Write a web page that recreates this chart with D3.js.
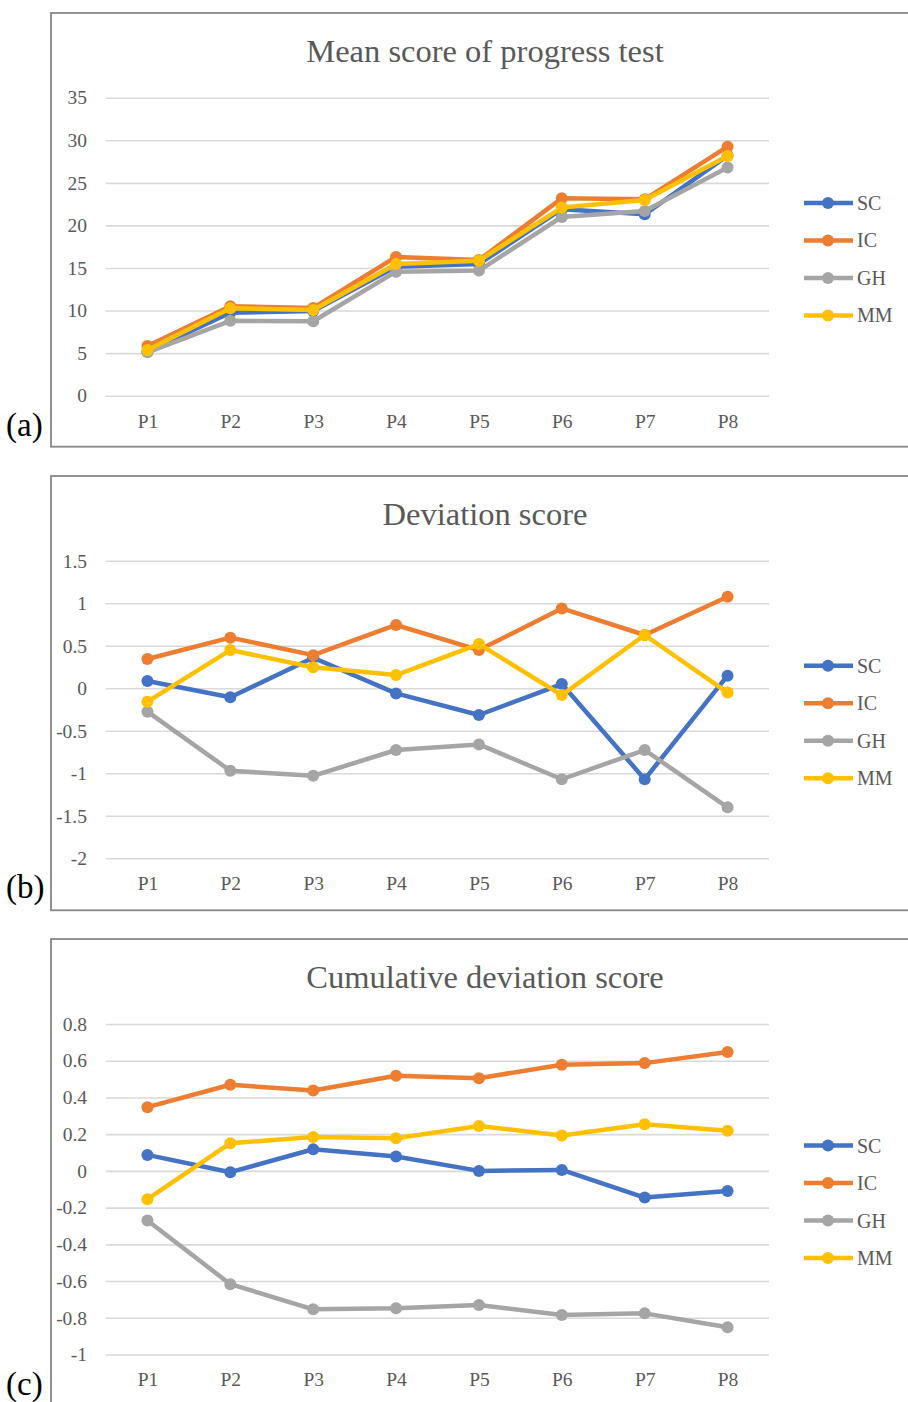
<!DOCTYPE html>
<html>
<head>
<meta charset="utf-8">
<script src="https://cdn.jsdelivr.net/npm/d3@7"></script>
<style>
  body { margin: 0; background: #fff; }
  text { font-family: "Liberation Serif", "Times New Roman", serif; }
</style>
</head>
<body>
<div id="chart"></div>
<script>
var categories = ["P1", "P2", "P3", "P4", "P5", "P6", "P7", "P8"];
var seriesNames = ["SC", "IC", "GH", "MM"];
var seriesColors = ["#4472C4", "#ED7D31", "#A5A5A5", "#FFC000"];

// (a) mean score of progress test
var meanSC = [5.2, 9.75, 9.95, 15.15, 15.47, 21.9, 21.3, 28.2];
var meanIC = [5.84, 10.5, 10.3, 16.3, 15.94, 23.18, 23.06, 29.25];
var meanGH = [5.1, 8.8, 8.75, 14.57, 14.69, 21.0, 21.7, 26.8];
var meanMM = [5.37, 10.26, 10.07, 15.47, 15.86, 22.1, 22.98, 28.15];
var meanTicks = [0, 5, 10, 15, 20, 25, 30, 35];
var meanTickLabels = ["0", "5", "10", "15", "20", "25", "30", "35"];

// (b) deviation score
var devSC = [0.086, -0.106, 0.36, -0.06, -0.314, 0.05, -1.07, 0.149];
var devIC = [0.345, 0.596, 0.39, 0.745, 0.45, 0.94, 0.627, 1.078];
var devGH = [-0.275, -0.97, -1.03, -0.726, -0.66, -1.07, -0.726, -1.40];
var devMM = [-0.157, 0.45, 0.247, 0.156, 0.52, -0.08, 0.627, -0.05];
var devTicks = [-2, -1.5, -1, -0.5, 0, 0.5, 1, 1.5];
var devTickLabels = ["-2", "-1.5", "-1", "-0.5", "0", "0.5", "1", "1.5"];

// (c) cumulative deviation score
var cumSC = [0.087, -0.007, 0.118, 0.078, 0.0, 0.005, -0.145, -0.109];
var cumIC = [0.347, 0.469, 0.438, 0.518, 0.505, 0.578, 0.587, 0.647];
var cumGH = [-0.27, -0.617, -0.754, -0.748, -0.73, -0.785, -0.776, -0.852];
var cumMM = [-0.154, 0.151, 0.184, 0.178, 0.245, 0.193, 0.254, 0.218];
var cumTicks = [-1, -0.8, -0.6, -0.4, -0.2, 0, 0.2, 0.4, 0.6, 0.8];
var cumTickLabels = ["-1", "-0.8", "-0.6", "-0.4", "-0.2", "0", "0.2", "0.4", "0.6", "0.8"];

var panels = [
  {tag: "(a)", title: "Mean score of progress test", top: 13, gridTop: 97.7, gridBottom: 395.7,
   series: [meanSC, meanIC, meanGH, meanMM], ticks: meanTicks, labels: meanTickLabels, bottomGap: 51},
  {tag: "(b)", title: "Deviation score", top: 476, gridTop: 560.8, gridBottom: 858.3,
   series: [devSC, devIC, devGH, devMM], ticks: devTicks, labels: devTickLabels, bottomGap: 52},
  {tag: "(c)", title: "Cumulative deviation score", top: 939, gridTop: 1024, gridBottom: 1354.5,
   series: [cumSC, cumIC, cumGH, cumMM], ticks: cumTicks, labels: cumTickLabels, bottomGap: 52}
];

var W = 908, H = 1402;
var svg = d3.select("#chart").append("svg")
    .attr("width", W)
    .attr("height", H)
    .style("display", "block");

var x = d3.scalePoint()
    .domain(categories)
    .range([106, 769])
    .padding(0.5);

panels.forEach(function(p) {
    var g = svg.append("g");
    var lo = d3.min(p.ticks), hi = d3.max(p.ticks);
    var y = d3.scaleLinear()
        .domain([lo, hi])
        .range([p.gridBottom, p.gridTop]);

    // frame (right edge runs off the page)
    g.append("rect")
        .attr("x", 51)
        .attr("y", p.top)
        .attr("width", 900)
        .attr("height", p.gridBottom + p.bottomGap - p.top)
        .attr("fill", "none")
        .attr("stroke", "#868686")
        .attr("stroke-width", 1.8);

    g.append("text")
        .attr("x", 485)
        .attr("y", p.top + 49)
        .attr("text-anchor", "middle")
        .attr("font-size", 32.5)
        .attr("fill", "#595959")
        .text(p.title);

    // gridlines + y labels
    var yAxis = d3.axisLeft(y)
        .tickValues(p.ticks)
        .tickSize(-(769 - 106))
        .tickPadding(19)
        .tickFormat(function(d, i) { return p.labels[i]; });
    var ya = g.append("g")
        .attr("transform", "translate(106,0)")
        .call(yAxis);
    ya.select(".domain").remove();
    ya.selectAll("line").attr("stroke", "#D9D9D9").attr("stroke-width", 1.6);
    ya.selectAll("text")
        .attr("font-size", 19.5)
        .attr("fill", "#595959")
        .style("font-family", "'Liberation Serif', serif");

    var xAxis = d3.axisBottom(x).tickSize(0).tickPadding(18);
    var xa = g.append("g")
        .attr("transform", "translate(0," + p.gridBottom + ")")
        .call(xAxis);
    xa.select(".domain").remove();
    xa.selectAll("text")
        .attr("font-size", 19.5)
        .attr("fill", "#595959")
        .style("font-family", "'Liberation Serif', serif");

    var line = d3.line()
        .x(function(d, i) { return x(categories[i]); })
        .y(function(d) { return y(d); });

    p.series.forEach(function(vals, s) {
        g.append("path")
            .datum(vals)
            .attr("d", line)
            .attr("fill", "none")
            .attr("stroke", seriesColors[s])
            .attr("stroke-width", 4.5)
            .attr("stroke-linejoin", "round");
        g.selectAll(".m" + s)
            .data(vals).enter()
            .append("circle")
            .attr("cx", function(d, i) { return x(categories[i]); })
            .attr("cy", function(d) { return y(d); })
            .attr("r", 6)
            .attr("fill", seriesColors[s]);
    });

    // legend
    var legMid = (p.gridTop + p.gridBottom) / 2 + 12.5;
    seriesNames.forEach(function(name, s) {
        var ly = legMid + (s - 1.5) * 37.5;
        g.append("line")
            .attr("x1", 804).attr("x2", 853)
            .attr("y1", ly).attr("y2", ly)
            .attr("stroke", seriesColors[s])
            .attr("stroke-width", 4.5);
        g.append("circle")
            .attr("cx", 828).attr("cy", ly).attr("r", 6)
            .attr("fill", seriesColors[s]);
        g.append("text")
            .attr("x", 857).attr("y", ly)
            .attr("dy", "0.35em")
            .attr("font-size", 20)
            .attr("fill", "#595959")
            .text(name);
    });

    g.append("text")
        .attr("x", 6)
        .attr("y", p.gridBottom + 40)
        .attr("font-size", 33)
        .attr("fill", "#000")
        .text(p.tag);
});
</script>
</body>
</html>
